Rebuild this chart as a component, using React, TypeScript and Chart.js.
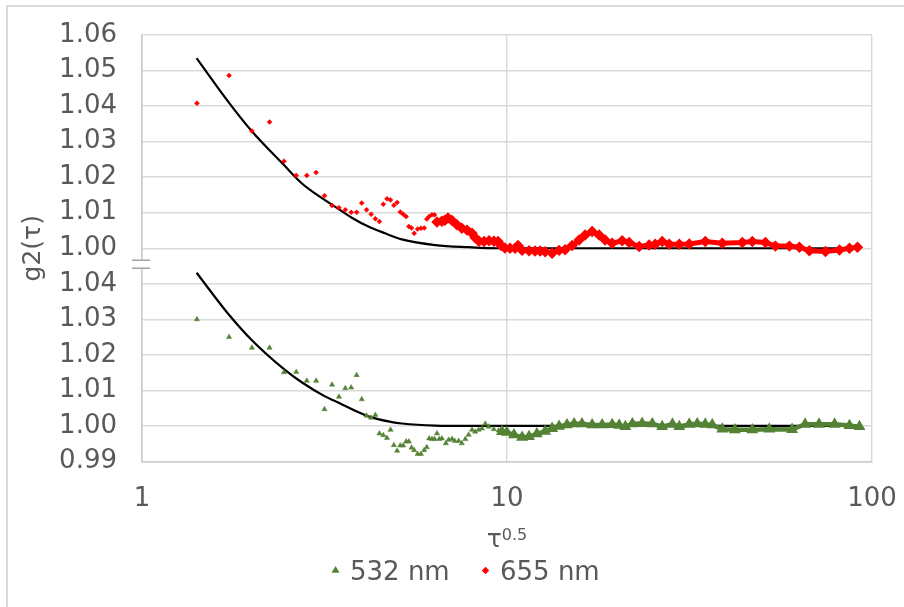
import React, { useEffect, useRef } from "react";
import { Chart, registerables } from "chart.js";
import { drawPoint } from "chart.js/helpers";

Chart.register(...registerables);

// ---------- data ----------
const SERIES_532 = "532 nm";
const SERIES_655 = "655 nm";
const COLOR_532 = "#548235";
const COLOR_655 = "#FF0000";

// offset used to stack the 655 nm curve above the 532 nm curve (broken axis)
const OFFSET_655 = 0.05;

// individually visible points, x = tau^0.5
const xSparse = [
  1.414, 1.732, 2.0, 2.236, 2.449, 2.646, 2.828, 3.0, 3.162, 3.317,
  3.464, 3.606, 3.742, 3.873, 4.0, 4.123, 4.243, 4.359, 4.472, 4.583,
  4.69, 4.796, 4.899, 5.0, 5.099, 5.196, 5.292, 5.385, 5.477, 5.568,
  5.69, 5.81, 5.93, 6.03, 6.12, 6.23, 6.33,
];

const y655Sparse = [
  1.0408, 1.0486, 1.033, 1.0355, 1.0245, 1.0205, 1.0205, 1.0213, 1.0148, 1.012,
  1.0114, 1.0108, 1.0101, 1.0101, 1.0127, 1.0108, 1.0096, 1.0083, 1.0075, 1.0124,
  1.0139, 1.0136, 1.0121, 1.0129, 1.0102, 1.0096, 1.0089, 1.0061, 1.0057, 1.0042,
  1.0054, 1.0056, 1.0057, 1.0082, 1.0089, 1.0094, 1.0094,
];

const y532Sparse = [
  1.03, 1.025, 1.022, 1.022, 1.0151, 1.0152, 1.0127, 1.0127, 1.0047, 1.0116,
  1.0082, 1.0106, 1.0108, 1.0143, 1.0075, 1.0029, 1.0023, 1.0031, 0.9979, 0.9974,
  0.9966, 0.9989, 0.9946, 0.993, 0.9945, 0.9945, 0.9956, 0.9956, 0.9939, 0.9932,
  0.9921, 0.9921, 0.9932, 0.994, 0.9965, 0.9963, 0.9963,
];

// 532 nm: further separate points between ~6.4 and ~9.5
const x532Mid = [
  6.43, 6.52, 6.63, 6.8, 6.92, 7.07, 7.19, 7.37, 7.52, 7.69,
  7.85, 8.02, 8.18, 8.36, 8.54, 8.72, 8.91, 9.2, 9.49,
];
const y532Mid = [
  0.9979, 0.9963, 0.9965, 0.9951, 0.9961, 0.9963, 0.9958, 0.9958, 0.9951, 0.9963,
  0.9975, 0.9989, 0.9984, 0.9989, 0.9993, 1.0006, 0.9998, 0.9991, 0.9987,
];

// dense parts (many overlapping markers -> band)
const x532Band = [
  9.69, 9.99, 10.45, 11.0, 11.49, 12.07, 12.72, 13.29, 13.89, 14.6,
  15.27, 16.05, 17.11, 18.22, 19.42, 20.3, 21.1, 22.05, 23.45, 25.0,
  26.62, 28.4, 29.65, 31.58, 33.2, 34.93, 36.5, 38.89, 42.1, 47.0,
  52.3, 60.4, 65.6, 71.6, 79.0, 86.75, 92.4,
];
const y532Band = [
  0.9984, 0.9982, 0.9975, 0.9968, 0.997, 0.9978, 0.9985, 0.9993, 0.9999, 1.0003,
  1.0006, 1.0006, 1.0003, 1.0003, 1.0004, 1.0002, 0.9998, 1.0006, 1.0007, 1.0006,
  0.9998, 1.0005, 0.9998, 1.0005, 1.0006, 1.0005, 1.0003, 0.9991, 0.9989, 0.9989,
  0.9991, 0.999, 1.0005, 1.0005, 1.0005, 1.0001, 0.9998,
];

const x655Band = [
  6.43, 6.63, 6.76, 6.89, 7.07, 7.29, 7.52, 7.77, 8.02, 8.17,
  8.38, 8.65, 8.93, 9.21, 9.45, 9.63, 9.87, 10.19, 10.52, 10.72,
  11.0, 11.49, 11.94, 12.32, 12.72, 13.29, 13.89, 14.43, 15.08, 15.76,
  16.37, 17.11, 17.88, 18.57, 19.42, 20.68, 21.61, 23.02, 24.52, 25.47,
  26.62, 27.82, 29.65, 31.58, 34.93, 38.89, 44.13, 47.0, 51.05, 54.38,
  59.38, 63.26, 67.38, 74.55, 81.43, 86.75, 91.25,
];
const y655Band = [
  1.0074, 1.0076, 1.0079, 1.0085, 1.0078, 1.0066, 1.0056, 1.0051, 1.0042, 1.003,
  1.002, 1.0019, 1.0021, 1.002, 1.0019, 1.0008, 1.0001, 1.0, 1.0, 1.0008,
  0.9994, 0.9993, 0.9992, 0.9992, 0.999, 0.9986, 0.9994, 0.9996, 1.0008, 1.0023,
  1.0037, 1.0047, 1.0037, 1.0023, 1.0014, 1.0021, 1.0016, 1.0005, 1.0009, 1.0011,
  1.0019, 1.0011, 1.0011, 1.0012, 1.0019, 1.0014, 1.0016, 1.0019, 1.0016, 1.0006,
  1.0006, 1.0003, 0.9993, 0.9991, 0.9995, 1.0, 1.0003,
];

// fitted curves (black)
const xFit655 = [
  1.411, 1.724, 1.997, 2.449, 2.739, 2.992, 3.379, 3.757, 4.171, 4.636,
  5.151, 6.357, 7.85, 9.49, 20, 50, 92,
];
const yFit655 = [
  1.0535, 1.0412, 1.033, 1.0234, 1.0183, 1.0153, 1.0117, 1.0086, 1.0061, 1.0042,
  1.0025, 1.0009, 1.0003, 1.0, 1.0, 1.0, 1.0,
];
const xFit532 = [
  1.411, 1.724, 1.997, 2.449, 2.739, 3.162, 3.379, 4.171, 4.835, 5.151,
  6.357, 7.81, 10, 20, 50, 92,
];
const yFit532 = [
  1.0431, 1.0315, 1.0242, 1.016, 1.0123, 1.0084, 1.007, 1.0027, 1.0011, 1.0007,
  1.0001, 1.0, 1.0, 1.0, 1.0, 1.0,
];

// axes
const X_TICKS = [1, 10, 100];
const Y_TICKS = [0.99, 1.0, 1.01, 1.02, 1.03, 1.04, 1.05, 1.06, 1.07, 1.08, 1.09, 1.1, 1.11];
const Y_TICK_LABELS = [
  "0.99", "1.00", "1.01", "1.02", "1.03", "1.04",
  "1.00", "1.01", "1.02", "1.03", "1.04", "1.05", "1.06",
];
const BREAK_AT = 1.0455;
const X_TITLE = "τ";
const X_TITLE_SUP = "0.5";
const Y_TITLE = "g2(τ)";

// ---------- helpers ----------
const pts = (xs: number[], ys: number[], off = 0) =>
  xs.map((x, i) => ({ x, y: ys[i] + off }));

const FONT = "'DejaVu Sans', Verdana, sans-serif";
const TEXT = "#595959";

const decor = {
  id: "decor",
  afterDraw(chart: any) {
    const { ctx, chartArea, scales } = chart;
    const ys = scales.y;
    ctx.save();
    // outer chart border
    ctx.strokeStyle = "#d9d9d9";
    ctx.lineWidth = 2;
    ctx.strokeRect(7, 6, 1400, 1400);

    // axis break mark
    const yb = ys.getPixelForValue(BREAK_AT);
    const L = chartArea.left;
    ctx.fillStyle = "#ffffff";
    ctx.fillRect(L - 3, yb - 4, 6, 8);
    ctx.strokeStyle = "#a6a6a6";
    ctx.lineWidth = 1.6;
    for (const dy of [-4, 4]) {
      ctx.beginPath();
      ctx.moveTo(L - 10, yb + dy);
      ctx.lineTo(L + 8, yb + dy);
      ctx.stroke();
    }

    // y title
    ctx.fillStyle = TEXT;
    ctx.save();
    ctx.translate(40, (chartArea.top + chartArea.bottom) / 2);
    ctx.rotate(-Math.PI / 2);
    ctx.font = `25px ${FONT}`;
    ctx.textAlign = "center";
    ctx.textBaseline = "alphabetic";
    ctx.fillText(Y_TITLE, 0, 0);
    ctx.restore();

    // x title with superscript
    ctx.textAlign = "left";
    ctx.textBaseline = "alphabetic";
    ctx.font = `25px ${FONT}`;
    const w1 = ctx.measureText(X_TITLE).width;
    ctx.font = `16px ${FONT}`;
    const w2 = ctx.measureText(X_TITLE_SUP).width;
    const cx = (chartArea.left + chartArea.right) / 2;
    const x0 = cx - (w1 + w2) / 2;
    ctx.font = `25px ${FONT}`;
    ctx.fillText(X_TITLE, x0, 547);
    ctx.font = `16px ${FONT}`;
    ctx.fillText(X_TITLE_SUP, x0 + w1, 540);

    // legend
    const items = [
      { text: SERIES_532, color: COLOR_532, style: "triangle", mx: 335.5, tx: 350, r: 3 },
      { text: SERIES_655, color: COLOR_655, style: "rectRot", mx: 485.5, tx: 500, r: 2.6 },
    ];
    ctx.font = `26px ${FONT}`;
    for (const it of items) {
      ctx.fillStyle = it.color;
      ctx.strokeStyle = it.color;
      drawPoint(ctx, { pointStyle: it.style, radius: it.r, rotation: 0, borderWidth: 0.5 } as any, it.mx, 570.5);
      ctx.fillStyle = TEXT;
      ctx.fillText(it.text, it.tx, 580);
    }
    ctx.restore();
  },
};

export default function App() {
  const ref = useRef<HTMLCanvasElement | null>(null);

  useEffect(() => {
    if (!ref.current) return;
    const chart = new Chart(ref.current, {
      type: "scatter",
      data: {
        datasets: [
          {
            label: SERIES_532,
            data: pts([...xSparse, ...x532Mid], [...y532Sparse, ...y532Mid]),
            pointStyle: "triangle",
            pointRadius: 3,
            backgroundColor: COLOR_532,
            borderColor: COLOR_532,
            borderWidth: 0.5,
            showLine: false,
            order: 1,
          },
          {
            label: SERIES_532 + " band",
            data: pts(x532Band, y532Band),
            pointStyle: "triangle",
            pointRadius: 2.4,
            backgroundColor: COLOR_532,
            borderColor: COLOR_532,
            borderWidth: 4.5,
            showLine: true,
            order: 1,
          },
          {
            label: SERIES_655,
            data: pts(xSparse, y655Sparse, OFFSET_655),
            pointStyle: "rectRot",
            pointRadius: 2.5,
            backgroundColor: COLOR_655,
            borderColor: COLOR_655,
            borderWidth: 0.5,
            showLine: false,
            order: 2,
          },
          {
            label: SERIES_655 + " band",
            data: pts(x655Band, y655Band, OFFSET_655),
            pointStyle: "rectRot",
            pointRadius: 2.2,
            backgroundColor: COLOR_655,
            borderColor: COLOR_655,
            borderWidth: 5,
            showLine: true,
            order: 2,
          },
          {
            label: "fit 655",
            data: pts(xFit655, yFit655, OFFSET_655),
            showLine: true,
            pointRadius: 0,
            borderColor: "#000000",
            borderWidth: 2.2,
            cubicInterpolationMode: "monotone",
            order: 5,
          },
          {
            label: "fit 532",
            data: pts(xFit532, yFit532),
            showLine: true,
            pointRadius: 0,
            borderColor: "#000000",
            borderWidth: 2.2,
            cubicInterpolationMode: "monotone",
            order: 5,
          },
        ],
      },
      options: {
        responsive: false,
        animation: false,
        devicePixelRatio: 1,
        layout: { padding: { left: 0, right: 32, top: 35, bottom: 100 } },
        plugins: { legend: { display: false }, tooltip: { enabled: false } },
        scales: {
          x: {
            type: "logarithmic",
            min: 1,
            max: 100,
            afterBuildTicks: (s: any) => {
              s.ticks = X_TICKS.map((v) => ({ value: v }));
            },
            afterFit: (s: any) => {
              s.height = 45.5;
            },
            ticks: {
              callback: (v: any) => String(v),
              font: { family: FONT, size: 26 },
              color: TEXT,
              padding: 0,
              maxRotation: 0,
              autoSkip: false,
            },
            grid: {
              color: "#d9d9d9",
              lineWidth: 1.4,
              drawTicks: true,
              tickLength: 22,
              tickColor: "rgba(0,0,0,0)",
            },
            border: { display: true, color: "#cccccc", width: 1.6 },
          },
          y: {
            type: "linear",
            min: 0.99,
            max: 1.11,
            afterBuildTicks: (s: any) => {
              s.ticks = Y_TICKS.map((v) => ({ value: v }));
            },
            afterFit: (s: any) => {
              s.width = 142;
            },
            ticks: {
              callback: (_v: any, i: number) => Y_TICK_LABELS[i],
              font: { family: FONT, size: 26 },
              color: TEXT,
              padding: 0,
              autoSkip: false,
            },
            grid: {
              color: "#d9d9d9",
              lineWidth: 1.4,
              drawTicks: true,
              tickLength: 25,
              tickColor: "rgba(0,0,0,0)",
            },
            border: { display: true, color: "#cccccc", width: 1.6 },
          },
        },
      },
      plugins: [decor],
    } as any);
    return () => chart.destroy();
  }, []);

  return (
    <div style={{ position: "absolute", left: 0, top: 0, width: 904, height: 607, background: "#ffffff" }}>
      <canvas ref={ref} width={904} height={607} style={{ display: "block" }} />
    </div>
  );
}
